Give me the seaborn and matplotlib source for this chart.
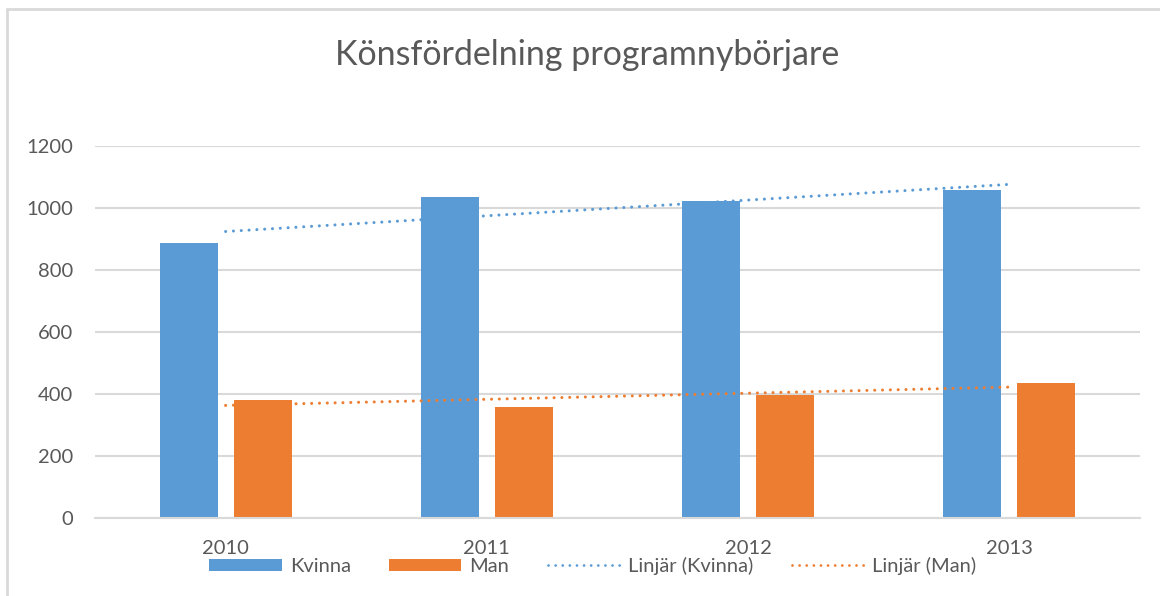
import numpy as np
import pandas as pd
import matplotlib
matplotlib.use("Agg")
import matplotlib.pyplot as plt
from matplotlib.lines import Line2D
from matplotlib.patches import Patch
import seaborn as sns

years = ["2010", "2011", "2012", "2013"]
kvinna = [886, 1034, 1022, 1059]
man = [382, 357, 398, 434]
series_names = ["Kvinna", "Man"]
trend_names = ["Linjär (Kvinna)", "Linjär (Man)"]
title = "Könsfördelning programnybörjare"
yticks = [0, 200, 400, 600, 800, 1000, 1200]

BLUE = "#5B9BD5"
ORANGE = "#ED7D31"
TEXT = "#595959"
GRID = "#D9D9D9"
DOT = (0, (0.01, 2.55))

sns.set_theme(style="white")
plt.rcParams["font.family"] = ["Lato", "DejaVu Sans"]

df = pd.DataFrame({
    "year": years * 2,
    "value": kvinna + man,
    "series": [series_names[0]] * 4 + [series_names[1]] * 4,
})

fig = plt.figure(figsize=(11.6, 5.96), dpi=100)
ax = fig.add_axes([95 / 1160, 78 / 596, 1045 / 1160, 372 / 596])

sns.barplot(data=df, x="year", y="value", hue="series", order=years,
            hue_order=series_names, palette=[BLUE, ORANGE], width=0.566,
            gap=0.216, ax=ax, legend=False, saturation=1, edgecolor="none")

# linear trend lines (Excel "Linjär")
xs = np.arange(len(years))
for vals, col in [(kvinna, BLUE), (man, ORANGE)]:
    k, m = np.polyfit(xs, vals, 1)
    tr = pd.DataFrame({"x": xs, "y": k * xs + m})
    sns.lineplot(data=tr, x="x", y="y", ax=ax, color=col, lw=2.2,
                 linestyle=DOT, dash_capstyle="round")

ax.set_xlim(-0.5, 3.5)
ax.set_ylim(0, 1200)
ax.set_yticks(yticks)
ax.set_yticklabels([str(t) for t in yticks])
ax.set_xlabel("")
ax.set_ylabel("")
ax.yaxis.grid(True, color=GRID, lw=1.5)
ax.set_axisbelow(True)
for s in ["top", "right", "left"]:
    ax.spines[s].set_visible(False)
ax.spines["bottom"].set_color(GRID)
ax.spines["bottom"].set_linewidth(1.5)
ax.tick_params(axis="y", length=0, pad=16, labelsize=14.5, labelcolor=TEXT)
ax.tick_params(axis="x", length=0, pad=16, labelsize=14.5, labelcolor=TEXT)

fig.text(0.506, 1 - 55 / 596, title, ha="center", va="center",
         fontsize=24.5, color=TEXT)

handles = [
    Patch(facecolor=BLUE, edgecolor="none"),
    Patch(facecolor=ORANGE, edgecolor="none"),
    Line2D([], [], color=BLUE, lw=2.0, linestyle=DOT, dash_capstyle="round"),
    Line2D([], [], color=ORANGE, lw=2.0, linestyle=DOT, dash_capstyle="round"),
]
labels = series_names + trend_names
leg = fig.legend(handles, labels, loc="center", bbox_to_anchor=(0.511, 1 - 566 / 596),
                 ncol=4, frameon=False, fontsize=14.5, handlelength=3.6,
                 handleheight=0.6, columnspacing=1.9, handletextpad=0.4,
                 labelcolor=TEXT)

# chart frame (top and left edges visible)
fig.add_artist(Line2D([7 / 1160, 7 / 1160], [0, 1 - 9 / 596], color=GRID, lw=2,
                      transform=fig.transFigure))
fig.add_artist(Line2D([7 / 1160, 1], [1 - 9 / 596, 1 - 9 / 596], color=GRID, lw=2,
                      transform=fig.transFigure))

fig.savefig("out.png", dpi=100, facecolor="white")
